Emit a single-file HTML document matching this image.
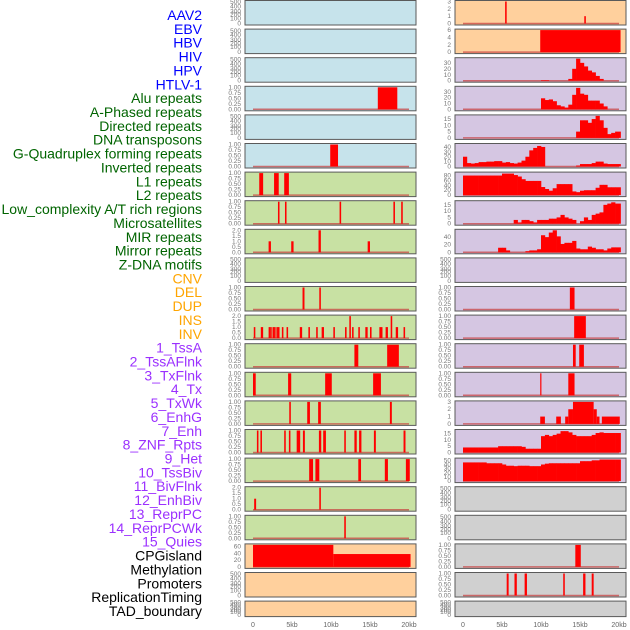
<!DOCTYPE html>
<html><head><meta charset="utf-8"><style>
html,body{margin:0;padding:0;background:#fff;}
svg{display:block;font-family:"Liberation Sans",sans-serif;}
</style></head><body>
<svg id="chart" width="630" height="630" viewBox="0 0 630 630"></svg>
<script>
// ---------- data ----------
const labels = ["AAV2","EBV","HBV","HIV","HPV","HTLV-1","Alu repeats","A-Phased repeats","Directed repeats","DNA transposons","G-Quadruplex forming repeats","Inverted repeats","L1 repeats","L2 repeats","Low_complexity A/T rich regions","Microsatellites","MIR repeats","Mirror repeats","Z-DNA motifs","CNV","DEL","DUP","INS","INV","1_TssA","2_TssAFlnk","3_TxFlnk","4_Tx","5_TxWk","6_EnhG","7_Enh","8_ZNF_Rpts","9_Het","10_TssBiv","11_BivFlnk","12_EnhBiv","13_ReprPC","14_ReprPCWk","15_Quies","CPGisland","Methylation","Promoters","ReplicationTiming","TAD_boundary"];
const labelGroups = [6,13,5,15,5];
const groupColors = ["#0000ff","#006400","#ffa500","#9b30ff","#000000"];
const xTickLabels = ["0","5kb","10kb","15kb","20kb"];
const xTickValues = [0,5,10,15,20];

// binned profiles (0.5 kb bins)
const hivBins = [0,0,0,0,0,0,0,0,0,0,0,0,0,0,0,0,0,0,0,0,1,1,0,0,0,0,0,3,20,37,30,24,17,14,8,3,0,0,0,0];
const hpvBins = [0,0,0,0,0,0,0,0,0,0,0,0,0,0,0,0,0,0,0,0,19,16,17,14,7,5,3,8,25,37,27,25,15,15,15,10,5,0,0,0];
const htlvBins = [0,0,0,0,0,0,0,0,0,0,0,0,0,0,0,0,0,0,0,0,0,0,0,0,0,0,0,0,0,5,14,14,12,15,17.5,14,8,3,4,5];
const gquadBins = [20,7,6,7,9,9,10,10,11,11,8,9,7,6,8,12,20,33,38,42,40,0,0,0,0,0,0,0,0,2,5,5,5,7,10,10,6,5,5,5];
const l1Bins = [80,80,80,80,80,80,80,80,80,80,88,88,88,82,76,65,58,58,58,58,33,25,18,28,45,45,45,45,15,12,18,20,20,20,30,42,42,32,32,32];
const l2Bins = [0,0,0,0,0,0,0,0,0,0,0,0,0,3,1,3,3,2,1,3,3,3,4,4,5,7,5,4,3,0,2,5,3,7,8,9,15,16,17,16];
const mirBins = [0,0,0,0,0,0,0,0,0,12,12,5,0,0,0,0,3,5,5,8,45,40,52,58,42,22,25,25,30,10,8,8,15,12,8,8,5,10,13,13];
const enhBins = [4,4,4,4,4,4,4,4,4,5,5,5,5,5,5,4.5,3,3,3,3,13,14,13,14,15,17,17,16,14,13,13,13,13,14,15.5,16,15.5,15.5,15.5,15.5];
const znfBins = [45,45,45,45,45,45,43,43,43,43,40,37,37,36,37,37,37,36,36,36,40,42,43,43,43,43,43,43,43,43,48,48,48,50,50,52,52,52,52,52];

// segments [start kb, end kb, value]
const aavSegs = [[5.4,5.6,3],[15.55,15.75,1]];
const ebvSegs = [[9.9,20.2,6]];
const aluSegs = [[16,18.5,1]];
const gqLeftSegs = [[9.9,10.9,1]];
const l1LeftSegs = [[0.8,1.3,1],[2.7,3.3,1],[4.0,4.6,1]];
const lowSegs = [[3.2,3.4,1],[4.1,4.3,1],[11.1,11.3,1],[18.0,18.2,1],[19.0,19.2,1]];
const mirLeftSegs = [[2.0,2.3,1],[4.9,5.2,1],[8.4,8.7,2],[14.7,15.0,1]];
const delSegs = [[6.35,6.6,1],[8.5,8.7,1]];
const insSegs = [[0.1,0.3,1],[1.0,1.3,1],[2.0,2.2,1],[2.2,2.4,1],[2.5,2.7,1],[2.7,2.9,1],[3.0,3.2,1],[3.2,3.4,1],[3.7,3.9,1],[4.3,4.5,1],[6.0,6.3,1],[7.1,7.3,1],[8.1,8.3,1],[8.8,9.1,1],[10.3,10.5,1],[11.8,12.0,1],[12.35,12.55,2],[12.7,12.9,1],[13.5,13.7,1],[14.4,14.7,1],[15.0,15.2,1],[16.2,16.6,1],[17.0,17.3,1],[17.65,17.85,2],[18.3,18.6,1],[19.3,19.5,1]];
const tssASegs = [[13.0,13.5,1],[17.2,18.7,1]];
const tssFlnkSegs = [[0,0.35,1],[4.5,4.9,1],[9.25,10.1,1],[15.4,16.4,1]];
const txFlnkSegs = [[4.65,4.85,1],[6.95,7.3,1],[8.35,8.7,1],[17.55,17.8,1]];
const txSegs = [[0.5,0.7,1],[0.95,1.15,1],[4.0,4.2,1],[4.6,4.8,1],[5.6,6.05,1],[6.4,6.65,1],[8.45,8.75,1],[9.0,9.35,1],[11.7,11.9,1],[13.0,13.3,1],[13.6,13.9,1],[15.5,15.75,1],[19.3,19.55,1]];
const txWkSegs = [[7.2,7.7,1],[8.0,8.5,1],[13.5,13.85,1],[16.9,17.3,1],[19.6,20.1,1]];
const enhGSegs = [[0.15,0.4,1],[8.5,8.7,2]];
const enhBivSegs = [[11.7,11.9,1]];
const cpgSegs = [[0,10.3,65],[10.3,20.2,38]];
const r10Segs = [[13.7,14.3,1]];
const r11Segs = [[14.25,15.75,1]];
const r12Segs = [[14.1,14.45,1],[14.9,15.5,1]];
const r13Segs = [[9.9,10.05,1],[13.5,14.3,1]];
const r14Segs = [[9.9,10.5,1],[11.95,12.55,1],[13.1,13.5,1],[13.5,14.1,2],[14.1,16.75,3],[16.75,17.15,2],[17.15,17.5,1],[17.8,20.1,1]];
const r19Segs = [[14.4,15.1,1]];
const promoterSegs = [[5.6,5.85,1],[6.6,6.9,1],[7.9,8.2,1],[12.85,13.05,1],[15.4,15.7,1],[16.5,16.75,1]];

// tick sets
const tUnit = ["0.00","0.25","0.50","0.75","1.00"];
const tTwo = ["0.0","0.5","1.0","1.5","2.0"];
const tEmpty = ["0","100","200","300","400","500"];

// ---------- layout ----------
const BLUE="#c6e3eb", PEACH="#ffd09d", LAV="#d5c6e2", GREEN="#c8e1a3", GRAY="#d0d0d0";
const panels = [];
function P(row, side, bg, max, ticks, tickVals, segs, bins){ panels.push({row,side,bg,max,ticks,tickVals,segs,bins}); }
const U=[0,0.25,0.5,0.75,1], TW=[0,0.5,1,1.5,2];
// left
P(0,0,BLUE,null,tEmpty);P(1,0,BLUE,null,tEmpty);P(2,0,BLUE,null,tEmpty);
P(3,0,BLUE,1,tUnit,U,aluSegs);P(4,0,BLUE,null,tEmpty);P(5,0,BLUE,1,tUnit,U,gqLeftSegs);
P(6,0,GREEN,1,tUnit,U,l1LeftSegs);P(7,0,GREEN,1,tUnit,U,lowSegs);P(8,0,GREEN,2,tTwo,TW,mirLeftSegs);
P(9,0,GREEN,null,tEmpty);P(10,0,GREEN,1,tUnit,U,delSegs);P(11,0,GREEN,2,tTwo,TW,insSegs);
P(12,0,GREEN,1,tUnit,U,tssASegs);P(13,0,GREEN,1,tUnit,U,tssFlnkSegs);P(14,0,GREEN,1,tUnit,U,txFlnkSegs);
P(15,0,GREEN,1,tUnit,U,txSegs);P(16,0,GREEN,1,tUnit,U,txWkSegs);P(17,0,GREEN,2,tTwo,TW,enhGSegs);
P(18,0,GREEN,1,tUnit,U,enhBivSegs);P(19,0,PEACH,65,["0","20","40","60"],[0,20,40,60],cpgSegs);
P(20,0,PEACH,null,tEmpty);P(21,0,PEACH,null,tEmpty);
// right
P(0,1,PEACH,3,["0","1","2","3"],[0,1,2,3],aavSegs);P(1,1,PEACH,6,["0","2","4","6"],[0,2,4,6],ebvSegs);
P(2,1,LAV,37,["0","10","20","30"],[0,10,20,30],null,hivBins);P(3,1,LAV,38,["0","10","20","30"],[0,10,20,30],null,hpvBins);
P(4,1,LAV,17.5,["0","5","10","15"],[0,5,10,15],null,htlvBins);P(5,1,LAV,45,["0","10","20","30","40"],[0,10,20,30,40],null,gquadBins);
P(6,1,LAV,90,["0","20","40","60","80"],[0,20,40,60,80],null,l1Bins);P(7,1,LAV,17.5,["0","5","10","15"],[0,5,10,15],null,l2Bins);
P(8,1,LAV,58,["0","20","40"],[0,20,40],null,mirBins);P(9,1,LAV,null,tEmpty);
P(10,1,LAV,1,tUnit,U,r10Segs);P(11,1,LAV,1,tUnit,U,r11Segs);P(12,1,LAV,1,tUnit,U,r12Segs);P(13,1,LAV,1,tUnit,U,r13Segs);
P(14,1,LAV,3,["0","1","2","3"],[0,1,2,3],r14Segs);P(15,1,LAV,17.5,["0","5","10","15"],[0,5,10,15],null,enhBins);
P(16,1,LAV,53,["0","10","20","30","40","50"],[0,10,20,30,40,50],null,znfBins);
P(17,1,GRAY,null,tEmpty);P(18,1,GRAY,null,tEmpty);P(19,1,GRAY,1,tUnit,U,r19Segs);P(20,1,GRAY,1,tUnit,U,promoterSegs);P(21,1,GRAY,null,tEmpty);

const NS="http://www.w3.org/2000/svg";
const svg=document.getElementById('chart');
function mk(tag,attrs,parent){const e=document.createElementNS(NS,tag);for(const k in attrs)e.setAttribute(k,attrs[k]);(parent||svg).appendChild(e);return e;}
const panelX=[245,455], panelW=171, dataX0=[253,463], kbPx=7.8;
const emptyFrac=[0,0.23,0.4,0.55,0.77,0.97];
function xScale(side,kb){return dataX0[side]+kb*kbPx;}

panels.forEach(p=>{
  const top=p.row*28.6+0.5, h=p.row===21?15.5:24.5;
  const g=mk('g',{});
  
  
  mk('rect',{x:panelX[p.side],y:top,width:panelW,height:h,fill:p.bg,stroke:'#5a5a5a','stroke-width':1},g);
  const y0=top+h-1.5, y1=top+1;
  const yS=v=>y0-(v/(p.max||1))*(y0-y1);
  // ticks
  p.ticks.forEach((t,i)=>{
    const yy=p.max?yS(p.tickVals[i]):(y0-emptyFrac[i]*(y0-y1));
    const tx=mk('text',{x:panelX[p.side]-4,y:yy+2,'font-size':6.5,fill:'#777','text-anchor':'end'},g);
    tx.textContent=t;
    
    
  });
  if(!p.max) return;
  mk('line',{x1:xScale(p.side,0),x2:xScale(p.side,20),y1:y0,y2:y0,stroke:'rgba(200,60,60,0.7)','stroke-width':1.5},g);
  if(p.segs){p.segs.forEach(s=>{
    const r=mk('rect',{x:xScale(p.side,s[0]),width:Math.max(1.2,(s[1]-s[0])*kbPx),y:yS(s[2]),height:y0-yS(s[2]),fill:'#ff0000'},g);
    
    
  });}
  if(p.bins){p.bins.forEach((v,i)=>{
    if(!v)return;
    const a=i*0.5,b=(i===p.bins.length-1)?20.2:i*0.5+0.5;
    const r=mk('rect',{x:xScale(p.side,a),width:(b-a)*kbPx+0.3,y:yS(v),height:y0-yS(v),fill:'#ff0000'},g);
    
    
  });}
});

// x axis labels
[0,1].forEach(side=>{
  xTickValues.forEach((v,i)=>{
    const t=mk('text',{x:xScale(side,v),y:627,'font-size':7,fill:'#666','text-anchor':'middle'});
    t.textContent=xTickLabels[i];
    
    
  });
});

// track labels
let idx=0;
labelGroups.forEach((n,gi)=>{
  for(let k=0;k<n;k++){
    const t=mk('text',{x:202,y:20+idx*13.86,'font-size':14,fill:groupColors[gi],'text-anchor':'end'});
    t.textContent=labels[idx];
    
    
    idx++;
  }
});
</script>
</body></html>
